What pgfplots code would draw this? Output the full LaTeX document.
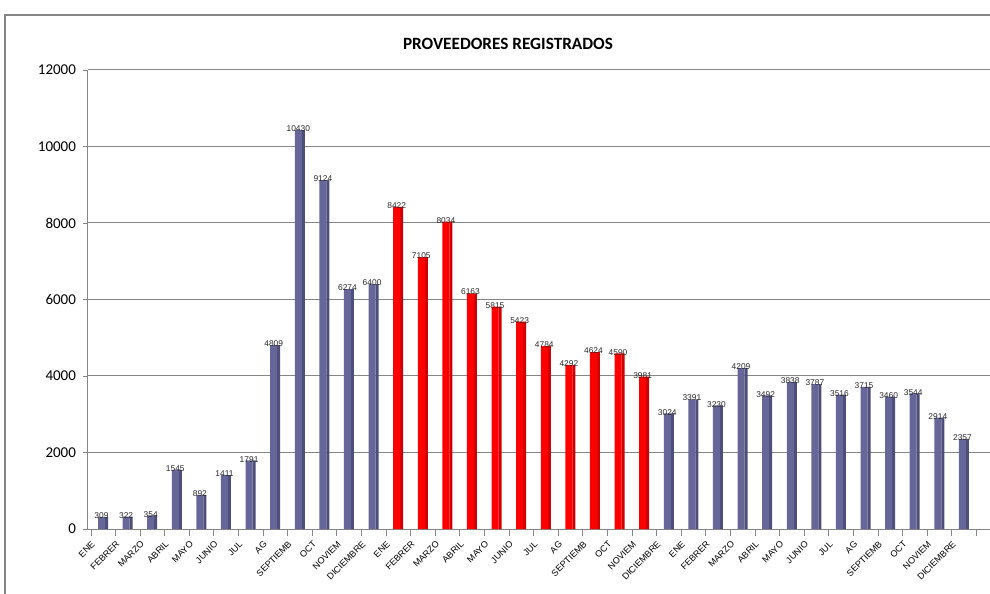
\documentclass[border=0pt]{standalone}
\usepackage{fontspec}
\setmainfont{Carlito}
\newfontfamily\arialf{Liberation Sans}
\usepackage{pgfplots}
\pgfplotsset{compat=1.18}
\definecolor{barblue}{RGB}{102,102,152}
\definecolor{barblueside}{RGB}{78,78,122}
\definecolor{barred}{RGB}{255,0,0}
\definecolor{barredside}{RGB}{210,0,0}
\definecolor{gridgray}{RGB}{134,134,134}
\definecolor{lbl}{RGB}{40,40,40}

\begin{document}
\begin{tikzpicture}
\begin{axis}[
  name=ax, at={(0,0)}, anchor=south west,
  scale only axis, width=451pt, height=229.5pt,
  xmin=-0.61, xmax=36.06, ymin=0, ymax=12000,
  ybar, bar width=3.5pt,
  axis x line*=bottom, axis y line*=left,
  axis line style={gridgray, line width=0.5pt, -},
  tick align=outside,
  ytick={0,2000,...,12000},
  ymajorgrids, grid style={gridgray, line width=0.5pt},
  scaled y ticks=false,
  /pgf/number format/1000 sep={},
  /pgf/number format/assume math mode=true,
  yticklabel style={font=\fontsize{7.5}{9}\selectfont, color=black},
  ytick style={gridgray},
  major tick length=2.5pt,
  xtick={0,...,35},
  xticklabels={ENE,FEBRER,MARZO,ABRIL,MAYO,JUNIO,JUL,AG,SEPTIEMB,OCT,NOVIEM,DICIEMBRE,
               ENE,FEBRER,MARZO,ABRIL,MAYO,JUNIO,JUL,AG,SEPTIEMB,OCT,NOVIEM,DICIEMBRE,
               ENE,FEBRER,MARZO,ABRIL,MAYO,JUNIO,JUL,AG,SEPTIEMB,OCT,NOVIEM,DICIEMBRE},
  major x tick style={draw=none},
  minor xtick={-0.5,0.5,...,35.5},
  minor x tick style={gridgray},
  minor tick length=3.5pt,
  xticklabel style={font=\arialf\fontsize{4.5}{5}\selectfont, color=black, xshift=-6pt, yshift=-3pt, rotate=45, anchor=north east, inner sep=0pt},
  clip=false,
]
% side strips
\addplot[fill=barblueside, draw=none, bar width=1.5pt, bar shift=1.75pt] coordinates {
(0,309) (1,322) (2,354) (3,1545) (4,892) (5,1411) (6,1791) (7,4809) (8,10430) (9,9124) (10,6274) (11,6400)
(23,3024) (24,3391) (25,3230) (26,4209) (27,3492) (28,3838) (29,3787) (30,3516) (31,3715) (32,3460) (33,3544) (34,2914) (35,2357)};
\addplot[fill=barredside, draw=none, bar width=1.5pt, bar shift=1.75pt] coordinates {
(12,8422) (13,7105) (14,8034) (15,6163) (16,5815) (17,5423) (18,4784) (19,4292) (20,4624) (21,4590) (22,3981)};
% main faces with labels
\addplot[fill=barblue, draw=none, bar shift=-0.75pt,
  nodes near coords, every node near coord/.append style={font=\arialf\fontsize{4.2}{5}\selectfont, color=lbl, anchor=center, yshift=0.6pt, inner sep=0pt}] coordinates {
(0,309) (1,322) (2,354) (3,1545) (4,892) (5,1411) (6,1791) (7,4809) (8,10430) (9,9124) (10,6274) (11,6400)
(23,3024) (24,3391) (25,3230) (26,4209) (27,3492) (28,3838) (29,3787) (30,3516) (31,3715) (32,3460) (33,3544) (34,2914) (35,2357)};
\addplot[fill=barred, draw=none, bar shift=-0.75pt,
  nodes near coords, every node near coord/.append style={font=\arialf\fontsize{4.2}{5}\selectfont, color=lbl, anchor=center, yshift=0.6pt, inner sep=0pt}] coordinates {
(12,8422) (13,7105) (14,8034) (15,6163) (16,5815) (17,5423) (18,4784) (19,4292) (20,4624) (21,4590) (22,3981)};
\end{axis}
\node[font=\bfseries\fontsize{8.6}{10}\selectfont, color=black] at (210pt,242.5pt) {PROVEEDORES REGISTRADOS};
\draw[gridgray, line width=0.6pt] (-41.5pt,-40pt) -- (-41.5pt,257pt) -- (460pt,257pt);
\pgfresetboundingbox
\useasboundingbox (-44pt,-32.5pt) rectangle (451pt,264.5pt);
\end{tikzpicture}
\end{document}
